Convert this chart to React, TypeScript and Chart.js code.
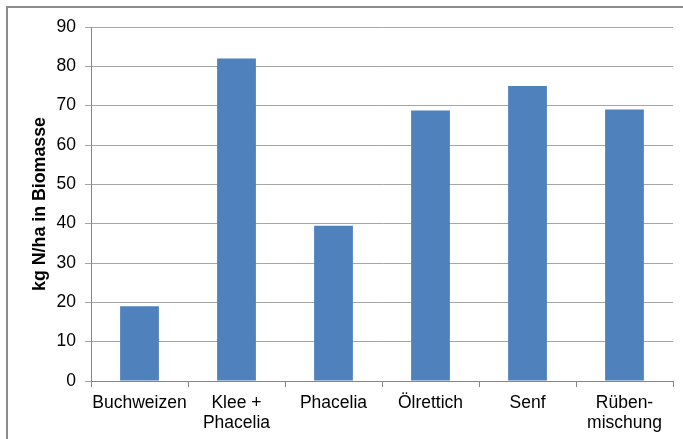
import React, { useEffect, useRef } from "react";
import { Chart, registerables } from "chart.js";

Chart.register(...registerables);

const categories: (string | string[])[] = [
  "Buchweizen",
  ["Klee +", "Phacelia"],
  "Phacelia",
  "Ölrettich",
  "Senf",
  ["Rüben-", "mischung"],
];
const values: number[] = [19, 82, 39.5, 68.8, 75, 69];
const yTicks: number[] = [0, 10, 20, 30, 40, 50, 60, 70, 80, 90];
const yTitle = "kg N/ha in Biomasse";

export default function App() {
  const ref = useRef<HTMLCanvasElement | null>(null);

  useEffect(() => {
    if (!ref.current) return;
    const chart = new Chart(ref.current, {
      type: "bar",
      data: {
        labels: categories,
        datasets: [
          {
            data: values,
            backgroundColor: "#4F81BD",
            borderWidth: 0,
            barPercentage: 0.4,
            categoryPercentage: 1,
          },
        ],
      },
      options: {
        animation: false,
        responsive: false,
        devicePixelRatio: 1,
        layout: { padding: { left: 0, right: 10, top: 27, bottom: 0 } },
        plugins: {
          legend: { display: false },
          tooltip: { enabled: false },
        },
        scales: {
          x: {
            offset: true,
            grid: {
              offset: true,
              drawOnChartArea: false,
              drawTicks: true,
              tickLength: 6,
              color: "#868686",
            },
            border: { display: true, color: "#868686", width: 1 },
            ticks: {
              color: "#000",
              padding: 6,
              maxRotation: 0,
              autoSkip: false,
              font: { family: "'Liberation Sans', Arial, sans-serif", size: 17.5, lineHeight: "20px" },
            },
            afterFit: (s: any) => {
              s.height = 58;
            },
          },
          y: {
            min: 0,
            max: 90,
            afterBuildTicks: (s: any) => {
              s.ticks = yTicks.map((v) => ({ value: v }));
            },
            grid: {
              color: "#a6a6a6",
              drawTicks: true,
              tickLength: 6,
            },
            border: { display: true, color: "#868686", width: 1 },
            ticks: {
              color: "#000",
              padding: 9,
              font: { family: "'Liberation Sans', Arial, sans-serif", size: 17.5 },
            },
            title: {
              display: true,
              text: yTitle,
              color: "#000",
              padding: { top: 29, bottom: 0 },
              font: { family: "'Liberation Sans', Arial, sans-serif", size: 17.8, weight: "bold" },
            },
            afterFit: (s: any) => {
              s.width = 91;
            },
          },
        },
      },
    });
    return () => chart.destroy();
  }, []);

  return (
    <div
      style={{
        position: "fixed",
        left: 0,
        top: 0,
        width: 683,
        height: 439,
        overflow: "hidden",
        background: "#fff",
      }}
    >
      <div
        style={{
          position: "absolute",
          left: 6,
          top: 6,
          width: 900,
          height: 900,
          border: "2px solid #8c8c8c",
          boxSizing: "border-box",
        }}
      />
      <canvas
        ref={ref}
        width={683}
        height={439}
        style={{ position: "absolute", left: 0, top: 0, width: 683, height: 439 }}
      />
    </div>
  );
}
